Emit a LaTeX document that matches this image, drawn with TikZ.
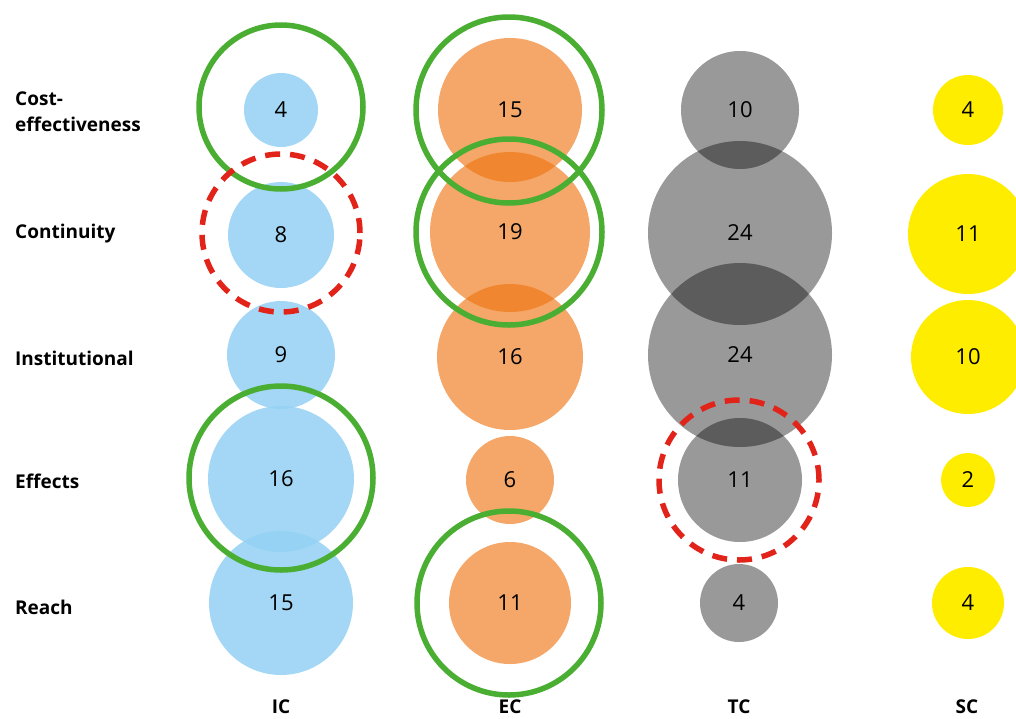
\documentclass[tikz,border=0pt]{standalone}
\usepackage{fontspec}
\setmainfont{Open Sans}
\definecolor{icblue}{RGB}{148,209,243}
\definecolor{ecorange}{RGB}{237,114,13}
\definecolor{scyellow}{RGB}{255,237,0}
\definecolor{hlgreen}{RGB}{74,174,51}
\definecolor{hlred}{RGB}{226,35,26}
\tikzset{
  bub/.style={circle, inner sep=0pt, draw=none, font=\fontsize{22}{26}\selectfont},
  icb/.style={bub, fill=icblue, fill opacity=0.86, text opacity=1},
  ecb/.style={bub, fill=ecorange, fill opacity=0.625, text opacity=1},
  tcb/.style={bub, fill=black, fill opacity=0.4, text opacity=1},
  scb/.style={bub, fill=scyellow},
  rowlab/.style={anchor=west, align=left, inner sep=0pt, font=\fontsize{19}{26}\selectfont\bfseries},
  collab/.style={inner sep=0pt, font=\fontsize{19}{23}\selectfont\bfseries},
  goodring/.style={circle, draw=hlgreen, line width=5.5pt, inner sep=0pt, fill=none},
  badring/.style={circle, draw=hlred, line width=5.5pt, inner sep=0pt, fill=none, dash pattern=on 15pt off 10pt},
}
\begin{document}
\begin{tikzpicture}[x=1pt,y=-1pt]
\useasboundingbox (0,0) rectangle (1016,718);
\clip (0,0) rectangle (1016,718);
% row labels
\node[rowlab] (lcost) at (15,112) {Cost-\\effectiveness};
\node[rowlab] (lcont) at (15,234) {Continuity};
\node[rowlab] (linst) at (15,358) {Institutional};
\node[rowlab] (leff) at (15,481) {Effects};
\node[rowlab] (lreach) at (15,607) {Reach};
% column labels
\node[collab] (cic) at (281,707) {IC};
\node[collab] (cec) at (510,707) {EC};
\node[collab] (ctc) at (739,707) {TC};
\node[collab] (csc) at (967,707) {SC};
% IC
\node[icb, minimum size=74pt] (ic1) at (281,110) {4};
\node[icb, minimum size=106pt] (ic2) at (281,235) {8};
\node[icb, minimum size=108pt] (ic3) at (281,355) {9};
\node[icb, minimum size=146pt] (ic4) at (281,479) {16};
\node[icb, minimum size=144pt] (ic5) at (281,603) {15};
% EC
\node[ecb, minimum size=144pt] (ec1) at (510,110) {15};
\node[ecb, minimum size=160pt] (ec2) at (510,232) {19};
\node[ecb, minimum size=146pt] (ec3) at (510,357) {16};
\node[ecb, minimum size=88pt] (ec4) at (510,480) {6};
\node[ecb, minimum size=122pt] (ec5) at (510,603) {11};
% TC
\node[tcb, minimum size=118pt] (tc1) at (740,110) {10};
\node[tcb, minimum size=184pt] (tc2) at (740,233) {24};
\node[tcb, minimum size=184pt] (tc3) at (740,355) {24};
\node[tcb, minimum size=124pt] (tc4) at (740,480) {11};
\node[tcb, minimum size=78pt] (tc5) at (739,603) {4};
% SC
\node[scb, minimum size=70pt] (sc1) at (968,110) {4};
\node[scb, minimum size=120pt] (sc2) at (968,234) {11};
\node[scb, minimum size=114pt] (sc3) at (968,357) {10};
\node[scb, minimum size=54pt] (sc4) at (968,480) {2};
\node[scb, minimum size=72pt] (sc5) at (968,603) {4};
% highlight rings
\node[goodring, minimum size=164pt] (g1) at (281,107) {};
\node[badring, minimum size=158pt] (r1) at (281,233) {};
\node[goodring, minimum size=184pt] (g2) at (281,478) {};
\node[goodring, minimum size=186pt] (g3) at (509,110) {};
\node[goodring, minimum size=186pt] (g4) at (509,232) {};
\node[goodring, minimum size=184pt] (g5) at (509,603) {};
\node[badring, minimum size=160pt] (r2) at (739,480) {};
\end{tikzpicture}
\end{document}
